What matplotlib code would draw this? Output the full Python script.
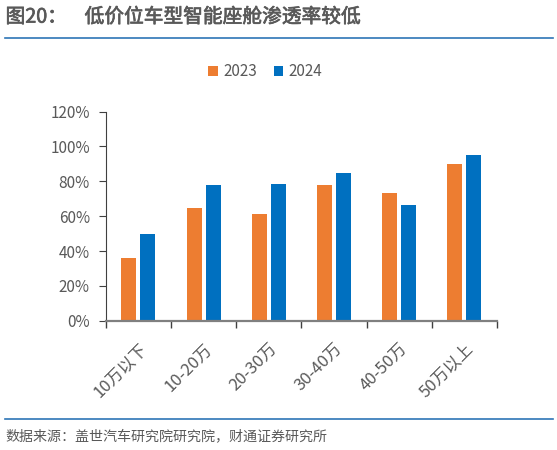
import matplotlib
matplotlib.use("Agg")
import matplotlib.pyplot as plt
import matplotlib.patheffects as pe
import numpy as np
from matplotlib.ticker import FuncFormatter

plt.rcParams['font.family'] = ['Noto Sans CJK SC', 'DejaVu Sans']

# data (%)
categories = ["10万以下", "10-20万", "20-30万", "30-40万", "40-50万", "50万以上"]
share_2023 = [36.0, 64.9, 61.1, 78.1, 73.3, 90.0]
share_2024 = [50.0, 77.7, 78.3, 84.8, 66.4, 95.3]
series_names = ["2023", "2024"]

gray = "#595959"
orange = "#ED7D31"
blue = "#0070C0"

fig = plt.figure(figsize=(5.57, 4.5), dpi=100)
ax = fig.add_axes([0.190, 0.287, 0.702, 0.465])

x = np.arange(len(categories))
w = 0.23
ax.bar(x - 0.146, share_2023, width=w, color=orange, label=series_names[0])
ax.bar(x + 0.146, share_2024, width=w, color=blue, label=series_names[1])

ax.set_xlim(-0.5, len(categories) - 0.5)
ax.set_ylim(0, 120)
ax.set_yticks(np.arange(0, 121, 20))
ax.yaxis.set_major_formatter(FuncFormatter(lambda v, p: "%d%%" % v))

# category boundaries get the tick marks
ax.set_xticks(np.arange(-0.5, len(categories), 1.0))
ax.set_xticklabels([])
ax.set_xticks(x, minor=True)
ax.set_xticklabels(categories, minor=True, rotation=45, ha='right',
                   rotation_mode='anchor', color=gray, fontsize=12)
ax.tick_params(axis='x', which='minor', length=0, pad=14)
ax.tick_params(axis='x', which='major', length=5, color="#404040", width=1)
ax.tick_params(axis='y', length=5, pad=6.5, color="#404040", labelcolor=gray, labelsize=11)

for s in ['top', 'right']:
    ax.spines[s].set_visible(False)
ax.spines['left'].set_color("#404040")
ax.spines['bottom'].set_color("#808080")
ax.spines['bottom'].set_linewidth(1.6)

leg = ax.legend(loc='center', bbox_to_anchor=(0.476, 0.84), bbox_transform=fig.transFigure,
                ncol=2, frameon=False, fontsize=11, handlelength=0.6, handleheight=0.6,
                handletextpad=0.35, columnspacing=1.1)
for t in leg.get_texts():
    t.set_color(gray)

fig.text(0.010, 0.962, "图20：    低价位车型智能座舱渗透率较低", fontsize=14.2,
         color=gray, va='center', ha='left',
         path_effects=[pe.withStroke(linewidth=0.5, foreground=gray)])
fig.add_artist(plt.Line2D([0.009, 0.993], [0.915, 0.915], color="#2E75B6", lw=1.2))
fig.add_artist(plt.Line2D([0.009, 0.993], [0.069, 0.069], color="#2E75B6", lw=1.2))
fig.text(0.010, 0.030, "数据来源：盖世汽车研究院研究院，财通证券研究所", fontsize=10.1,
         color=gray, va='center', ha='left')

fig.savefig("out.png", dpi=100)
